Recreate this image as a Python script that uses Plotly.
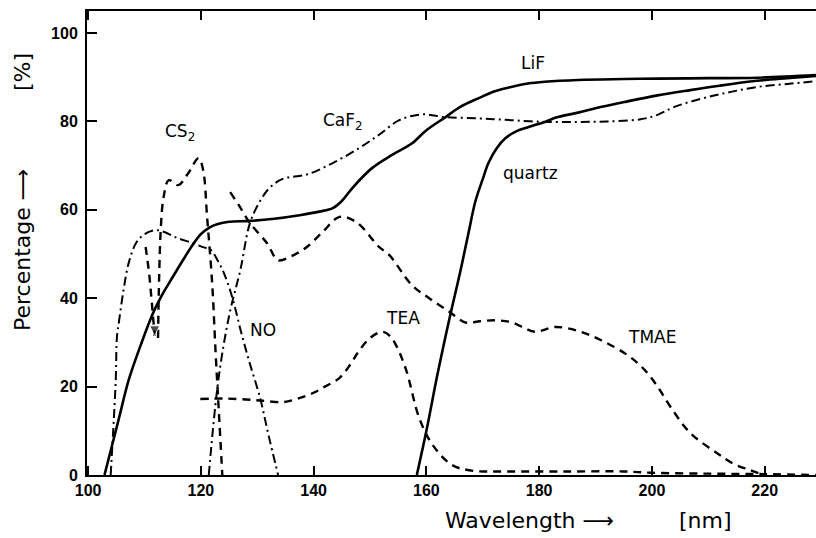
import plotly.graph_objects as go

# ---------------- data ----------------
lif_x = [102.9, 104, 105.5, 107.2, 109.5, 111.5, 113, 115, 117, 118.5, 120, 121.5, 123, 125,
         128.7, 133, 137.5, 141, 143.4, 145, 146.9, 150.4, 154, 157.4, 160, 163.4, 166, 169.3,
         172, 175, 178, 181, 186.9, 195, 201, 210, 218.6, 229.1]
lif_y = [0, 5.5, 13, 21.5, 30, 36.6, 40.5, 44.8, 49, 52, 54.5, 56, 56.8, 57.3,
         57.5, 58, 58.8, 59.6, 60.4, 62, 65, 69.5, 72.5, 75, 78, 81, 83.3, 85.3,
         86.8, 87.8, 88.6, 89, 89.4, 89.6, 89.7, 89.8, 89.9, 90.5]

quartz_x = [158.3, 160, 162, 164.3, 166, 167.5, 168.7, 170, 171, 172.5, 174, 176, 178, 181,
            183.3, 186.9, 190, 195.1, 201, 206.8, 212, 218.6, 224, 229.1]
quartz_y = [0, 10, 23, 36.6, 46, 55, 62, 67, 70.6, 74, 76.2, 77.8, 78.7, 79.9,
            81, 82, 83, 84.4, 85.9, 87.1, 88.1, 89.2, 89.8, 90.3]

caf2_x = [121.4, 123.1, 125, 127, 128.7, 130.5, 132.2, 134.5, 138.8, 143.4, 148.1, 151.6,
          155.2, 159.2, 163.4, 169.3, 175, 181, 186.9, 192, 198, 201, 204, 209.8, 214,
          218.6, 224, 229.1]
caf2_y = [0, 21.5, 36, 46.4, 57, 62, 65, 67, 68, 70.6, 74, 77,
          80.3, 81.6, 81, 80.7, 80.3, 79.9, 79.9, 80, 80.5, 81.5, 83.3, 85.5, 86.7,
          87.8, 88.5, 89.1]

no_x = [104, 104.9, 105.1, 105.5, 106.3, 107.2, 108.5, 110, 112, 113.5, 115.5, 118.5, 120.5,
        121.7, 123, 124.3, 125.7, 127, 128.5, 130.5, 132, 133.7]
no_y = [0, 21.5, 31, 35, 42, 48, 52.5, 54.5, 55.4, 55, 53.8, 52.5, 51.5,
        51, 48.5, 45, 39.6, 33, 26, 17.4, 9, 0]

cs2_x = [112.4, 112.6, 112.9, 113.4, 114.3, 116, 117.6, 119.6, 120.4, 121.1, 122, 122.6,
         123.2, 123.8]
cs2_y = [31, 45, 56, 63, 66.7, 65.6, 68, 71.7, 69, 58.4, 43.4, 28, 14, 0]

cs2_arrow_x = [110.2, 110.8, 111.3, 111.8]
cs2_arrow_y = [51.6, 46, 39, 31.5]

tmae_x = [125.2, 127, 128.7, 131.7, 133.7, 136, 138.8, 141.6, 144.6, 147.6, 151.6, 153.4,
          157.4, 160.5, 164, 167, 169.5, 172.2, 175, 177, 179.3, 182.8, 186.9, 191, 195.7,
          198.7, 201, 203.3, 206.8, 211.5, 214.5, 217.4, 219.8]
tmae_y = [64, 60.5, 57, 52.5, 48.6, 49.5, 51.6, 55, 58.4, 57.2, 51.6, 49.8,
          43, 40, 37, 34.5, 34.8, 35, 34.6, 33.5, 32.4, 33.5, 32.6, 30.5, 27.1,
          23.8, 20, 15.4, 9.5, 5, 2.5, 1.1, 0]

tea_x = [119.9, 124, 128, 131, 134.5, 137, 139.8, 142, 144.6, 146.5, 148, 150, 152.2, 153.5,
         154.6, 156.4, 158.7, 161, 164.5, 168, 175, 185, 195, 200, 210, 220, 229.1]
tea_y = [17.2, 17.3, 17.1, 16.8, 16.5, 17.2, 18.5, 20, 22, 25, 28, 31, 32.4, 31.5,
         29.4, 23.8, 13, 7, 2.3, 1, 0.8, 0.8, 0.8, 0.5, 0.3, 0.2, 0]

x_ticks = [100, 120, 140, 160, 180, 200, 220]
y_ticks = [0, 20, 40, 60, 80, 100]

curve_labels = ["LiF", "quartz", "CaF<sub>2</sub>", "CS<sub>2</sub>", "NO", "TEA", "TMAE"]
label_x = [178.9, 178.4, 145.2, 116.3, 131.0, 155.9, 200.0]
label_y = [93.2, 68.3, 79.9, 77.4, 32.8, 35.5, 31.2]

# ---------------- figure ----------------
BLACK = "#000000"
SOLID = dict(color=BLACK, width=2.6)
DASH = dict(color=BLACK, width=2.4, dash="8px,6px")
DASHDOT = dict(color=BLACK, width=2.0, dash="9px,4px,2px,4px")

fig = go.Figure()
fig.add_trace(go.Scatter(x=lif_x, y=lif_y, mode="lines", line=SOLID, line_shape="spline"))
fig.add_trace(go.Scatter(x=quartz_x, y=quartz_y, mode="lines", line=SOLID, line_shape="spline"))
fig.add_trace(go.Scatter(x=caf2_x, y=caf2_y, mode="lines", line=DASHDOT, line_shape="spline"))
fig.add_trace(go.Scatter(x=no_x, y=no_y, mode="lines", line=DASHDOT, line_shape="spline"))
fig.add_trace(go.Scatter(x=cs2_x, y=cs2_y, mode="lines", line=DASH, line_shape="spline"))
fig.add_trace(go.Scatter(x=cs2_arrow_x, y=cs2_arrow_y, mode="lines+markers", line=DASH,
                         marker=dict(symbol="arrow-down", size=[0, 0, 0, 10], color=BLACK)))
fig.add_trace(go.Scatter(x=tmae_x, y=tmae_y, mode="lines", line=DASH, line_shape="spline"))
fig.add_trace(go.Scatter(x=tea_x, y=tea_y, mode="lines", line=DASH, line_shape="spline"))

LABEL_FONT = dict(family="DejaVu Sans", size=17, color=BLACK)
for t, lx, ly in zip(curve_labels, label_x, label_y):
    fig.add_annotation(x=lx, y=ly, text=t, showarrow=False, font=LABEL_FONT)

TITLE_FONT = dict(family="DejaVu Sans", size=22, color=BLACK)
# x-axis title pieces
fig.add_annotation(xref="paper", yref="paper", x=(443 - 87) / 729, y=(475 - 520) / 464,
                   xanchor="left", yanchor="middle", showarrow=False,
                   text="Wavelength \u27f6", font=TITLE_FONT)
fig.add_annotation(xref="paper", yref="paper", x=(677 - 87) / 729, y=(475 - 520) / 464,
                   xanchor="left", yanchor="middle", showarrow=False,
                   text="[nm]", font=TITLE_FONT)
# y-axis title pieces
fig.add_annotation(xref="paper", yref="paper", x=(22 - 87) / 729, y=(475 - 250) / 464,
                   xanchor="center", yanchor="middle", showarrow=False, textangle=-90,
                   text="Percentage \u27f6", font=TITLE_FONT)
fig.add_annotation(xref="paper", yref="paper", x=(22 - 87) / 729, y=(475 - 72) / 464,
                   xanchor="center", yanchor="middle", showarrow=False, textangle=-90,
                   text="[%]", font=TITLE_FONT)

fig.update_layout(
    width=816, height=538,
    margin=dict(l=87, r=0, t=11, b=63),
    paper_bgcolor="white", plot_bgcolor="white",
    showlegend=False,
    xaxis=dict(range=[99.8, 229.1], tickvals=x_ticks, ticks="inside", ticklen=9,
               tickwidth=2, tickcolor=BLACK, showline=True, linewidth=2, linecolor=BLACK,
               mirror="ticks", showgrid=False, zeroline=False,
               tickfont=dict(family="Liberation Sans", size=16, color=BLACK, weight="bold")),
    yaxis=dict(range=[0, 105], tickvals=y_ticks, ticks="inside", ticklen=10,
               tickwidth=2, tickcolor=BLACK, showline=True, linewidth=2, linecolor=BLACK,
               mirror=False, showgrid=False, zeroline=False, ticklabelstandoff=4,
               tickfont=dict(family="Liberation Sans", size=16, color=BLACK, weight="bold")),
)

fig.write_html("out.html")
